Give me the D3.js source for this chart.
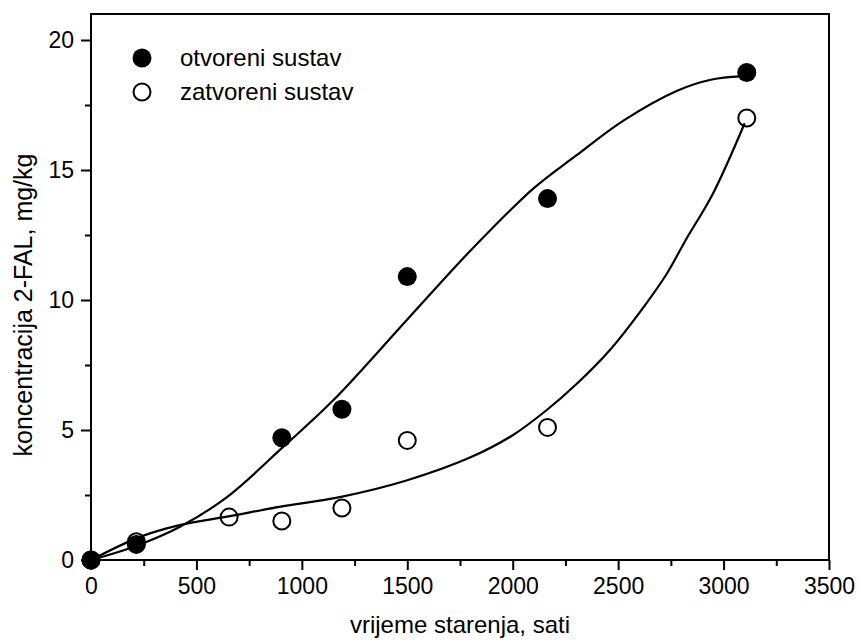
<!DOCTYPE html>
<html>
<head>
<meta charset="utf-8">
<script src="https://cdn.jsdelivr.net/npm/d3@7"></script>
<style>
  body { margin: 0; background: #fff; }
  text { font-family: Arial, "Liberation Sans", sans-serif; fill: #000; }
</style>
</head>
<body>
<div id="chart"></div>
<script>
// measured points
var openHours = [0, 215, 905, 1190, 1500, 2165, 3110];
var openConc = [0, 0.6, 4.7, 5.8, 10.9, 13.9, 18.75];
var closedHours = [0, 215, 655, 905, 1190, 1500, 2165, 3110];
var closedConc = [0, 0.7, 1.65, 1.5, 2.0, 4.6, 5.1, 17.0];

// fitted curves
var openFitHours = [0, 200, 420, 645, 910, 1150, 1500, 1800, 2100, 2300, 2525, 2780, 2945, 3080];
var openFitConc = [0, 0.5, 1.27, 2.42, 4.34, 6.15, 9.25, 11.9, 14.3, 15.55, 16.9, 18.05, 18.48, 18.6];
var closedFitHours = [0, 230, 420, 660, 900, 1180, 1500, 1800, 2000, 2160, 2300, 2460, 2620, 2730, 2820, 2950, 3100];
var closedFitConc = [0, 0.88, 1.34, 1.69, 2.05, 2.42, 3.07, 3.95, 4.8, 5.76, 6.75, 8.07, 9.72, 11.0, 12.3, 14.1, 16.8];

var xTicks = [0, 500, 1000, 1500, 2000, 2500, 3000, 3500];
var yTicks = [0, 5, 10, 15, 20];
var legendLabels = ["otvoreni sustav", "zatvoreni sustav"];

var W = 859, H = 640;
var margin = {top: 14, right: 30, bottom: 80, left: 91};
var width = W - margin.left - margin.right,
    height = H - margin.top - margin.bottom;

var svg = d3.select("#chart").append("svg")
  .attr("width", W)
  .attr("height", H);

var g = svg.append("g")
  .attr("transform", "translate(" + margin.left + "," + margin.top + ")");

var x = d3.scaleLinear().domain([0, 3500]).range([0, width]);
var y = d3.scaleLinear().domain([0, 21]).range([height, 0]);

function zip(a, b){
  return a.map(function(d, i){ return [d, b[i]]; });
}

// frame
g.append("rect")
  .attr("width", width)
  .attr("height", height)
  .attr("fill", "none")
  .attr("stroke", "#000")
  .attr("stroke-width", 2);

// minor ticks
var xMinor = d3.range(250, 3500, 500);
var yMinor = d3.range(2.5, 21, 5);

g.append("g")
  .attr("transform", "translate(0," + height + ")")
  .call(d3.axisBottom(x).tickValues(xTicks).tickSize(10).tickPadding(8).tickFormat(d3.format("d")));
g.append("g")
  .attr("transform", "translate(0," + height + ")")
  .call(d3.axisBottom(x).tickValues(xMinor).tickSize(6).tickFormat(""));

g.append("g")
  .call(d3.axisLeft(y).tickValues(yTicks).tickSize(10).tickPadding(7).tickFormat(d3.format("d")));
g.append("g")
  .call(d3.axisLeft(y).tickValues(yMinor).tickSize(6).tickFormat(""));

g.selectAll(".domain").remove();
g.selectAll(".tick line").attr("stroke", "#000").attr("stroke-width", 2);
g.selectAll(".tick text").style("font-size", "23px").attr("fill", "#000");

// fitted curves
var line = d3.line()
  .x(function(d){ return x(d[0]); })
  .y(function(d){ return y(d[1]); })
  .curve(d3.curveCatmullRom.alpha(0.5));

g.append("path")
  .datum(zip(openFitHours, openFitConc))
  .attr("d", line)
  .attr("fill", "none")
  .attr("stroke", "#000")
  .attr("stroke-width", 2.2);

g.append("path")
  .datum(zip(closedFitHours, closedFitConc))
  .attr("d", line)
  .attr("fill", "none")
  .attr("stroke", "#000")
  .attr("stroke-width", 2.2);

// points
g.selectAll(".closed")
  .data(zip(closedHours, closedConc))
  .enter().append("circle")
  .attr("class", "closed")
  .attr("cx", function(d){ return x(d[0]); })
  .attr("cy", function(d){ return y(d[1]); })
  .attr("r", 8.5)
  .attr("fill", "none")
  .attr("stroke", "#000")
  .attr("stroke-width", 2);

g.selectAll(".open")
  .data(zip(openHours, openConc))
  .enter().append("circle")
  .attr("class", "open")
  .attr("cx", function(d){ return x(d[0]); })
  .attr("cy", function(d){ return y(d[1]); })
  .attr("r", 9.5)
  .attr("fill", "#000");

// legend
var legend = svg.append("g");
legendLabels.forEach(function(label, i){
  var ly = 58 + i * 34;
  legend.append("circle")
    .attr("cx", 142)
    .attr("cy", ly)
    .attr("r", i == 0 ? 9.5 : 8.5)
    .attr("fill", i == 0 ? "#000" : "none")
    .attr("stroke", "#000")
    .attr("stroke-width", i == 0 ? 0 : 2);
  legend.append("text")
    .attr("x", 180)
    .attr("y", ly + 8)
    .style("font-size", "24px")
    .text(label);
});

// axis titles
svg.append("text")
  .attr("x", margin.left + width / 2)
  .attr("y", 633)
  .attr("text-anchor", "middle")
  .style("font-size", "24px")
  .text("vrijeme starenja, sati");

svg.append("text")
  .attr("transform", "translate(32,305) rotate(-90)")
  .attr("text-anchor", "middle")
  .style("font-size", "25px")
  .text("koncentracija 2-FAL, mg/kg");
</script>
</body>
</html>
